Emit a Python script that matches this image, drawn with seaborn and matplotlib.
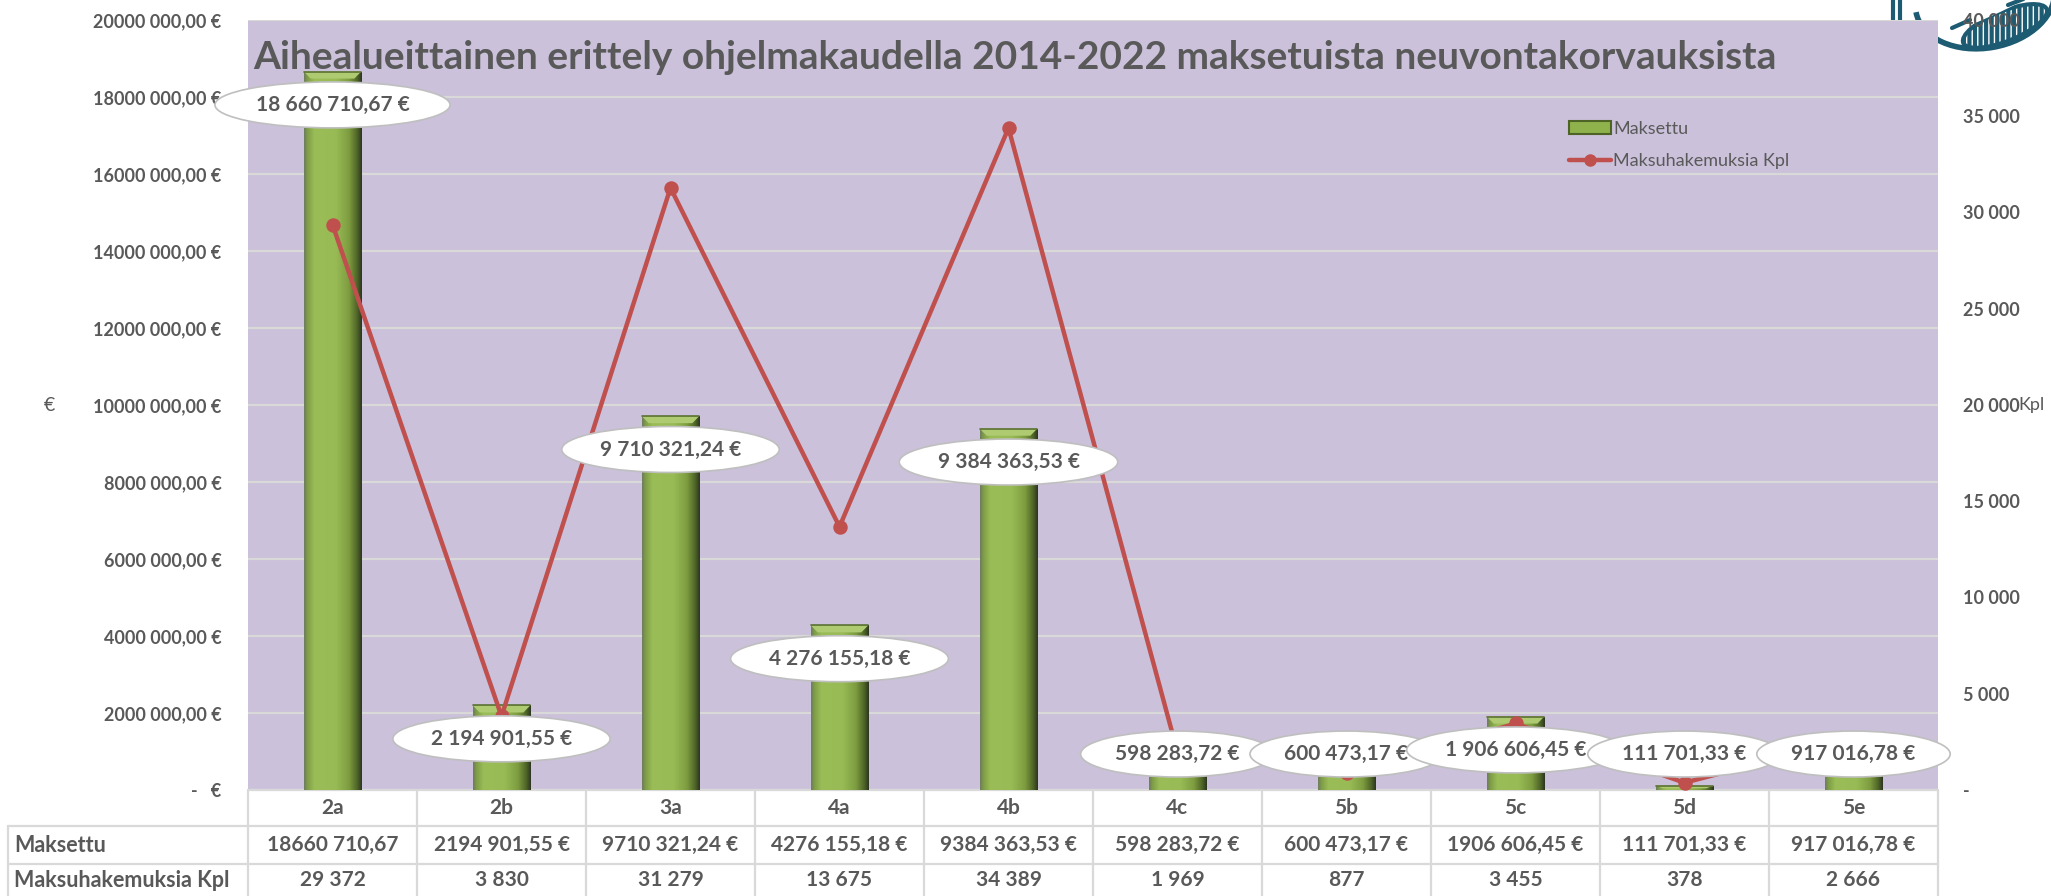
import numpy as np
import seaborn as sns
import matplotlib.pyplot as plt
import matplotlib.transforms as mtransforms
from matplotlib.colors import LinearSegmentedColormap
from matplotlib.patches import Patch, Polygon, Ellipse, Arc
from matplotlib.lines import Line2D
from matplotlib.ticker import FuncFormatter, MultipleLocator

categories = ['2a', '2b', '3a', '4a', '4b', '4c', '5b', '5c', '5d', '5e']
maksettu = [18660710.67, 2194901.55, 9710321.24, 4276155.18, 9384363.53,
            598283.72, 600473.17, 1906606.45, 111701.33, 917016.78]
hakemukset = [29372, 3830, 31279, 13675, 34389, 1969, 877, 3455, 378, 2666]
bar_labels = ['18 660 710,67 €', '2 194 901,55 €', '9 710 321,24 €', '4 276 155,18 €',
              '9 384 363,53 €', '598 283,72 €', '600 473,17 €', '1 906 606,45 €',
              '111 701,33 €', '917 016,78 €']
table_maksettu = ['18660 710,67', '2194 901,55 €', '9710 321,24 €', '4276 155,18 €',
                  '9384 363,53 €', '598 283,72 €', '600 473,17 €', '1906 606,45 €',
                  '111 701,33 €', '917 016,78 €']
table_kpl = ['29 372', '3 830', '31 279', '13 675', '34 389', '1 969', '877',
             '3 455', '378', '2 666']

title = 'Aihealueittainen erittely ohjelmakaudella 2014-2022 maksetuista neuvontakorvauksista'
series_names = ['Maksettu', 'Maksuhakemuksia Kpl']

GRAY = '#595959'
RED = '#C0504D'
GREEN = '#98bb55'
TEAL = '#1d5b73'

sns.set_style('white')
plt.rcParams['font.family'] = ['Lato', 'DejaVu Sans']
plt.rcParams['hatch.linewidth'] = 3

W, H = 2051, 896
fig = plt.figure(figsize=(W / 100, H / 100), dpi=100)
L, R, T, B = 248, 1938, 20, 790
ax = fig.add_axes([L / W, 1 - B / H, (R - L) / W, (B - T) / H])
ax.set_facecolor('#cbc1da')

# bars
sns.barplot(x=categories, y=maksettu, color=GREEN, saturation=1, width=0.34, ax=ax, zorder=2)

bar_cmap = LinearSegmentedColormap.from_list('bar', [
    (0.0, '#6e7b60'), (0.06, '#7f9d47'), (0.18, '#9bbd57'), (0.55, '#98bb55'),
    (0.78, '#7d9c40'), (0.92, '#4e6427'), (1.0, '#2c3522')])
grad = np.linspace(0, 1, 256).reshape(1, -1)
bevel = 7 * 20e6 / (B - T)
for p in list(ax.patches):
    x0, w, h = p.get_x(), p.get_width(), p.get_height()
    p.set_edgecolor('none')
    im = ax.imshow(grad, extent=[x0, x0 + w, 0, h], aspect='auto', cmap=bar_cmap,
                   zorder=2.5, interpolation='bilinear')
    im.set_clip_path(p)
    bh = min(bevel, h * 0.6)
    ax.add_patch(Polygon([(x0, h), (x0 + w, h), (x0 + w * 0.88, h - bh), (x0 + w * 0.12, h - bh)],
                         closed=True, fc='#afcb72', ec='none', zorder=2.6))
    ax.plot([x0, x0 + w], [h, h], color='#5b7232', lw=1.2, zorder=2.7)

ax.set_xlim(-0.5, len(categories) - 0.5)
ax.set_ylim(0, 20e6)
ax.yaxis.set_major_locator(MultipleLocator(2e6))
ax.yaxis.grid(True, color='#d9d9d9', lw=1.6)
ax.set_axisbelow(True)
ax.yaxis.set_major_formatter(FuncFormatter(
    lambda v, pos: '-   €' if v == 0 else f'{int(v) // 1000} {int(v) % 1000:03d},00 €'))
ax.tick_params(axis='y', length=0, pad=19, labelsize=13, labelcolor=GRAY)
for lab in ax.get_yticklabels():
    lab.set_fontweight('bold')
ax.tick_params(axis='x', length=0, labelbottom=False)
ax.set_xlabel('')
ax.set_ylabel('')
for s in ax.spines.values():
    s.set_visible(False)

# line on secondary axis
ax2 = ax.twinx()
sns.pointplot(x=categories, y=hakemukset, ax=ax2, color=RED, markers='o',
              linestyles='-', linewidth=3.2, markersize=8)
ax2.set_xlim(-0.5, len(categories) - 0.5)
ax2.set_ylim(0, 40000)
ax2.yaxis.set_major_locator(MultipleLocator(5000))
ax2.yaxis.set_major_formatter(FuncFormatter(
    lambda v, pos: '-' if v == 0 else f'{int(v):,}'.replace(',', ' ')))
ax2.tick_params(axis='y', length=0, pad=18, labelsize=13, labelcolor=GRAY)
for lab in ax2.get_yticklabels():
    lab.set_fontweight('bold')
ax2.set_ylabel('')
ax2.set_xlabel('')
for s in ax2.spines.values():
    s.set_visible(False)

# data labels
for i, (v, txt) in enumerate(zip(maksettu, bar_labels)):
    ax2.annotate(txt, xy=(i, max(v, 1.8e6)), xycoords=ax.transData,
                 xytext=(0, -24), textcoords='offset points', ha='center', va='center',
                 fontsize=15, fontweight='bold', color=GRAY, zorder=10 + i,
                 bbox=dict(boxstyle='ellipse,pad=0.3', fc='white', ec='#bfbfbf', lw=1.2))

# title
ax2.text(0.003, 0.951, title, transform=ax.transAxes, ha='left', va='center',
         fontsize=28, fontweight='bold', color=GRAY)

# legend
handles = [Patch(fc='#8fb24c', ec='#4e6427', lw=1.5),
           Line2D([], [], color=RED, lw=3.2, marker='o', markersize=8)]
fig.legend(handles, series_names, loc='upper left', bbox_to_anchor=(1560 / W, 1 - 112 / H),
           frameon=False, fontsize=13, labelcolor=GRAY, handlelength=2.3,
           handletextpad=0.15, labelspacing=0.9, borderpad=0)

# axis titles
fig.text(49 / W, 1 - 405 / H, '€', ha='center', va='center', fontsize=14, color=GRAY)
fig.text(2018 / W, 1 - 405 / H, 'Kpl', ha='left', va='center', fontsize=13, color=GRAY)

# data table under the plot
tr = mtransforms.blended_transform_factory(ax.transData, ax.transAxes)
ph = B - T
y_rows = [0, -36 / ph, -74 / ph, -(H - B) / ph]
lx = (8 - L) / (R - L)
line_kw = dict(color='#d9d9d9', lw=1.6, clip_on=False)
ax.plot([0, 1], [0, 0], transform=ax.transAxes, **line_kw)
for yy in y_rows[1:3]:
    ax.plot([lx, 1], [yy, yy], transform=ax.transAxes, **line_kw)
for k in range(len(categories) + 1):
    ax.plot([k - 0.5, k - 0.5], [0, y_rows[-1]], transform=tr, **line_kw)
ax.plot([lx, lx], [y_rows[1], y_rows[-1]], transform=ax.transAxes, **line_kw)

cell_kw = dict(ha='center', va='center', fontsize=15, fontweight='bold', color=GRAY, clip_on=False)
y_mid = [(y_rows[0] + y_rows[1]) / 2, (y_rows[1] + y_rows[2]) / 2, (y_rows[2] + y_rows[3]) / 2]
for i, cat in enumerate(categories):
    ax.text(i, y_mid[0], cat, transform=tr, **cell_kw)
    ax.text(i, y_mid[1], table_maksettu[i], transform=tr, **cell_kw)
    ax.text(i, y_mid[2], table_kpl[i], transform=tr, **cell_kw)
for j, name in enumerate(series_names):
    ax.text((14 - L) / (R - L), y_mid[j + 1], name, transform=ax.transAxes, ha='left',
            va='center', fontsize=15.5, fontweight='bold', color=GRAY, clip_on=False)

# logo in the top right corner (partly cut off, like in the source)
lax = fig.add_axes([1860 / W, 1 - 60 / H, 191 / W, 60 / H])
lax.set_zorder(-1)
lax.set_xlim(0, 191)
lax.set_ylim(60, 0)
lax.axis('off')
lax.plot([33, 33], [0, 22], color=TEAL, lw=3)
lax.plot([40, 40], [0, 22], color=TEAL, lw=3)
lax.add_patch(Arc((125, 0), 140, 96, angle=-10, theta1=0, theta2=180, ec=TEAL, lw=4))
lax.add_patch(Ellipse((145, 26), 90, 30, angle=-22, fc='none', ec=TEAL, lw=3, hatch='|||'))
lax.add_patch(Ellipse((128, 12), 120, 10, angle=-24, fc='white', ec='none'))
lax.plot([92, 110], [28, 20], color=TEAL, lw=3)
lax.plot([148, 166], [5, -2], color=TEAL, lw=3)

fig.savefig('out.png', dpi=100)
